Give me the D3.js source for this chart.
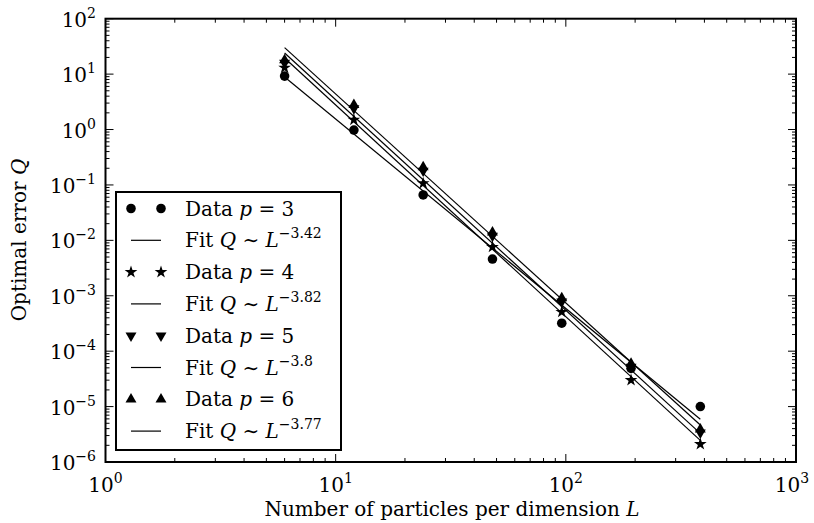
<!DOCTYPE html>
<html>
<head>
<meta charset="utf-8">
<script src="https://cdn.jsdelivr.net/npm/d3@7"></script>
<style>
  body { margin: 0; background: #fff; }
  text { font-family: "DejaVu Serif", serif; fill: #000; }
</style>
</head>
<body>
<svg id="chart" width="814" height="523"></svg>
<script>
// particles per dimension
var sizes = [6, 12, 24, 48, 96, 192, 384];
// optimal error for each p
var errP3 = [9.2, 0.98, 0.066, 0.0046, 0.00032, 0.000049, 0.00001];
var errP4 = [13, 1.5, 0.107, 0.0076, 0.00051, 0.00003, 0.0000021];
var errP5 = [16, 2.4, 0.18, 0.012, 0.00078, 0.000052, 0.0000034];
var errP6 = [18, 2.8, 0.21, 0.014, 0.00091, 0.00006, 0.0000039];
// fit Q ~ C L^exp, C given as the fitted value at L = 6
var fitExp = [-3.42, -3.82, -3.8, -3.77];
var fitAt6 = [8.9, 19.5, 24, 30];
var fitRange = [6, 384];
var pValues = [3, 4, 5, 6];
var xTicks = [1, 10, 100, 1000];
var yTicks = [1e-6, 1e-5, 1e-4, 1e-3, 1e-2, 1e-1, 1, 10, 100];

var series = [errP3, errP4, errP5, errP6];

var margin = {left: 105.5, right: 796, top: 18.7, bottom: 462};
var svg = d3.select("#chart");
var fs = 20, fsSup = 14;

var x = d3.scaleLog().domain([1, 1000]).range([margin.left, margin.right]);
var y = d3.scaleLog().domain([1e-6, 1e2]).range([margin.bottom, margin.top]);

var symbols = [
  {type: d3.symbolCircle, size: 72, rot: 0},
  {type: d3.symbolStar, size: 50, rot: 0},
  {type: d3.symbolTriangle, size: 52, rot: 180},
  {type: d3.symbolTriangle, size: 52, rot: 0}
];

// minor ticks for log axes
function minorTicks(domain) {
  var out = [];
  var lo = Math.log10(domain[0]), hi = Math.log10(domain[1]);
  for (var e = lo; e < hi; e++) {
    for (var k = 2; k <= 9; k++) out.push(k * Math.pow(10, e));
  }
  return out;
}

var ticksG = svg.append("g");
var majLen = 8, minLen = 4;
// ticks on all four sides, pointing inward
xTicks.forEach(function(t) {
  ticksG.append("line").attr("x1", x(t)).attr("x2", x(t))
    .attr("y1", margin.bottom).attr("y2", margin.bottom - majLen);
  ticksG.append("line").attr("x1", x(t)).attr("x2", x(t))
    .attr("y1", margin.top).attr("y2", margin.top + majLen);
});
minorTicks(x.domain()).forEach(function(t) {
  ticksG.append("line").attr("x1", x(t)).attr("x2", x(t))
    .attr("y1", margin.bottom).attr("y2", margin.bottom - minLen);
  ticksG.append("line").attr("x1", x(t)).attr("x2", x(t))
    .attr("y1", margin.top).attr("y2", margin.top + minLen);
});
yTicks.forEach(function(t) {
  ticksG.append("line").attr("y1", y(t)).attr("y2", y(t))
    .attr("x1", margin.left).attr("x2", margin.left + majLen);
  ticksG.append("line").attr("y1", y(t)).attr("y2", y(t))
    .attr("x1", margin.right).attr("x2", margin.right - majLen);
});
minorTicks(y.domain()).forEach(function(t) {
  ticksG.append("line").attr("y1", y(t)).attr("y2", y(t))
    .attr("x1", margin.left).attr("x2", margin.left + minLen);
  ticksG.append("line").attr("y1", y(t)).attr("y2", y(t))
    .attr("x1", margin.right).attr("x2", margin.right - minLen);
});
ticksG.selectAll("line").attr("stroke", "#000").attr("stroke-width", 1);

// tick labels 10^n
function powLabel(sel, v) {
  var e = Math.round(Math.log10(v));
  sel.append("tspan").text("10");
  sel.append("tspan").attr("dy", -9).attr("font-size", fsSup)
    .text(e < 0 ? "\u2212" + (-e) : e);
}
xTicks.forEach(function(t) {
  // keep the last label inside the window
  var tx = svg.append("text").attr("x", Math.min(x(t), 792)).attr("y", 492)
    .attr("text-anchor", "middle").attr("font-size", fs);
  powLabel(tx, t);
});
yTicks.forEach(function(t) {
  var tx = svg.append("text").attr("x", 96).attr("y", y(t) + 8)
    .attr("text-anchor", "end").attr("font-size", fs);
  powLabel(tx, t);
});

// fit lines
var line = d3.line().x(function(d) { return x(d[0]); }).y(function(d) { return y(d[1]); });
fitExp.forEach(function(a, i) {
  var pts = fitRange.map(function(L) { return [L, fitAt6[i] * Math.pow(L / 6, a)]; });
  svg.append("path").attr("d", line(pts)).attr("fill", "none")
    .attr("stroke", "#000").attr("stroke-width", 1.2);
});

// data markers
series.forEach(function(vals, i) {
  var s = symbols[i];
  svg.append("g").selectAll("path")
    .data(vals.map(function(v, j) { return [sizes[j], v]; }))
    .join("path")
    .attr("d", d3.symbol().type(s.type).size(s.size))
    .attr("transform", function(d) {
      return "translate(" + x(d[0]) + "," + y(d[1]) + ") rotate(" + s.rot + ")";
    })
    .attr("fill", "#000");
});

// frame
svg.append("rect").attr("x", margin.left).attr("y", margin.top)
  .attr("width", margin.right - margin.left).attr("height", margin.bottom - margin.top)
  .attr("fill", "none").attr("stroke", "#000").attr("stroke-width", 2);

// legend
var leg = svg.append("g");
leg.append("rect").attr("x", 116).attr("y", 192).attr("width", 225).attr("height", 258)
  .attr("fill", "#fff").attr("stroke", "#000").attr("stroke-width", 2);
var rowH = 31.8, row0 = 208.5;
pValues.forEach(function(p, i) {
  var yd = row0 + rowH * 2 * i, yf = yd + rowH;
  var s = symbols[i];
  [131, 161].forEach(function(mx) {
    leg.append("path").attr("d", d3.symbol().type(s.type).size(s.size)())
      .attr("transform", "translate(" + mx + "," + yd + ") rotate(" + s.rot + ")")
      .attr("fill", "#000");
  });
  var t1 = leg.append("text").attr("x", 185).attr("y", yd + 7).attr("font-size", fs);
  t1.append("tspan").text("Data ");
  t1.append("tspan").attr("font-style", "italic").text("p");
  t1.append("tspan").text(" = " + p);

  leg.append("line").attr("x1", 131).attr("x2", 161).attr("y1", yf).attr("y2", yf)
    .attr("stroke", "#000").attr("stroke-width", 1.2);
  var t2 = leg.append("text").attr("x", 185).attr("y", yf + 7).attr("font-size", fs);
  t2.append("tspan").text("Fit ");
  t2.append("tspan").attr("font-style", "italic").text("Q");
  t2.append("tspan").text(" \u223C ");
  t2.append("tspan").attr("font-style", "italic").text("L");
  t2.append("tspan").attr("dy", -9).attr("font-size", fsSup).text("\u2212" + (-fitExp[i]));
});

// axis titles
var xl = svg.append("text").attr("x", 452).attr("y", 516)
  .attr("text-anchor", "middle").attr("font-size", fs);
xl.append("tspan").text("Number of particles per dimension ");
xl.append("tspan").attr("font-style", "italic").text("L");

var yl = svg.append("text").attr("transform", "translate(26,240) rotate(-90)")
  .attr("text-anchor", "middle").attr("font-size", fs);
yl.append("tspan").text("Optimal error ");
yl.append("tspan").attr("font-style", "italic").text("Q");
</script>
</body>
</html>
